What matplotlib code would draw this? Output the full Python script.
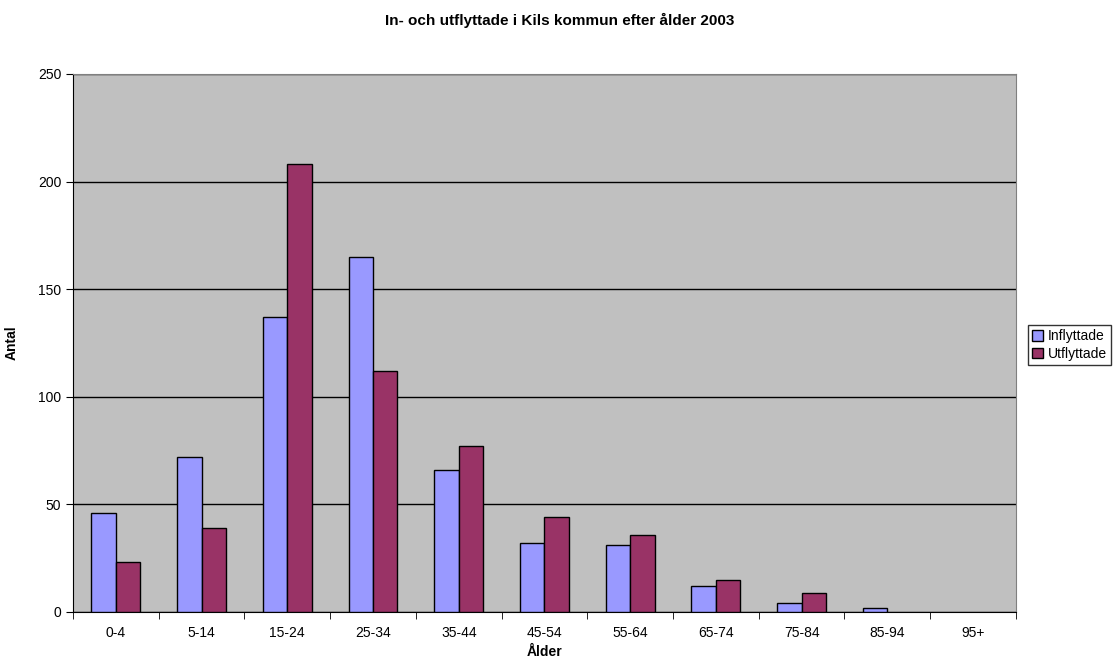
import matplotlib.pyplot as plt
import numpy as np

plt.rcParams['font.family'] = ['Liberation Sans', 'DejaVu Sans']

categories = ['0-4', '5-14', '15-24', '25-34', '35-44', '45-54', '55-64',
              '65-74', '75-84', '85-94', '95+']
inflyttade = [46, 72, 137, 165, 66, 32, 31, 12, 4, 2, 0]
utflyttade = [23, 39, 208, 112, 77, 44, 36, 15, 9, 0, 0]

fig = plt.figure(figsize=(11.2, 6.7), dpi=100)
ax = fig.add_axes([0.0652, 0.0866, 0.8418, 0.803])

x = np.arange(len(categories))
w = 1 / 3.5
b1 = ax.bar(x - w / 2, inflyttade, w, color='#9999FF', edgecolor='black',
            linewidth=1, label='Inflyttade', zorder=3)
b2 = ax.bar(x + w / 2, utflyttade, w, color='#993366', edgecolor='black',
            linewidth=1, label='Utflyttade', zorder=3)
# empty bars are not drawn in the original
for bars, vals in [(b1, inflyttade), (b2, utflyttade)]:
    for rect, v in zip(bars, vals):
        if v == 0:
            rect.set_visible(False)

ax.set_facecolor('#C0C0C0')
ax.set_xlim(-0.5, len(categories) - 0.5)
ax.set_ylim(0, 250)
ax.set_yticks([0, 50, 100, 150, 200, 250])
ax.yaxis.grid(True, color='black', linewidth=1, zorder=1)
ax.set_axisbelow(True)

ax.set_xticks(x)
ax.set_xticklabels(categories)
ax.set_xticks(np.arange(-0.5, len(categories)), minor=True)
ax.tick_params(axis='x', which='major', length=0, pad=10, labelsize=10)
ax.tick_params(axis='x', which='minor', length=5, direction='out')
ax.tick_params(axis='y', length=5, direction='out', labelsize=10)

for s in ['top', 'right']:
    ax.spines[s].set_color('#808080')
for s in ['left', 'bottom']:
    ax.spines[s].set_color('black')

ax.set_xlabel('Ålder', fontweight='bold', fontsize=10, labelpad=4)
ax.set_ylabel('Antal', fontweight='bold', fontsize=10)
ax.yaxis.set_label_coords(-0.058, 0.5)
fig.suptitle('In- och utflyttade i Kils kommun efter ålder 2003',
             fontweight='bold', fontsize=11, y=0.981)

leg = fig.legend(loc='center left', bbox_to_anchor=(0.918, 0.485),
                 fontsize=10, frameon=True, fancybox=False,
                 edgecolor='black', handlelength=0.8, handleheight=0.8,
                 handletextpad=0.3, borderpad=0.3, labelspacing=0.25,
                 borderaxespad=0)
leg.get_frame().set_linewidth(1)

fig.savefig('out.png', dpi=100)
